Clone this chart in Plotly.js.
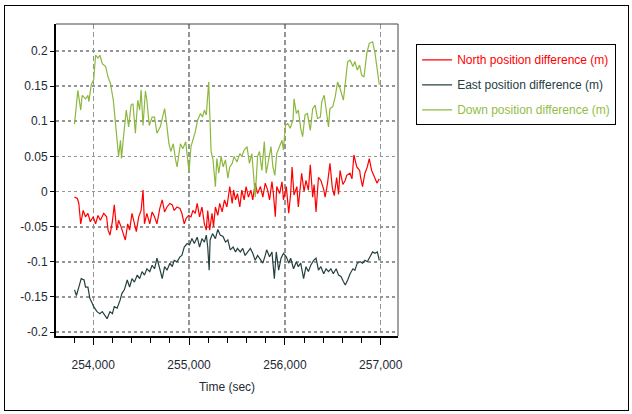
<!DOCTYPE html>
<html>
<head>
<meta charset="utf-8">
<script src="https://cdn.plot.ly/plotly-3.0.1.min.js"></script>
<style>
  body { margin: 0; background: #fff; }
  #plot { width: 632px; height: 414px; }
  #frame { position: absolute; left: 4px; top: 5px; width: 623px; height: 404px; border: 1px solid #000; pointer-events: none; }
</style>
</head>
<body>
<div id="plot"></div>
<div id="frame"></div>
<script>
// values (time in sec, differences in m)
var northTime = [253805,253835,253850,253870,253895,253920,253945,253970,254000,254025,
  254050,254075,254110,254140,254155,254175,254200,254220,254245,254265,
  254290,254310,254335,254360,254380,254405,254430,254450,254475,254500,
  254520,254535,254560,254590,254615,254640,254665,254695,254720,254745,
  254770,254800,254825,254845,254875,254905,254925,254950,254970,254995,
  255020,255040,255065,255085,255110,255135,255160,255180,255195,255215,
  255240,255255,255275,255300,255320,255345,255370,255395,255425,255450,
  255465,255485,255505,255530,255550,255575,255595,255620,255645,255665,
  255690,255715,255745,255770,255795,255820,255840,255865,255880,255900,
  255915,255945,255970,255985,256015,256040,256060,256075,256095,256125,
  256140,256175,256200,256220,256245,256265,256290,256305,256325,256350,
  256375,256405,256420,256445,256470,256495,256515,256540,256560,256575,
  256605,256630,256645,256680,256700,256720,256750,256780,256790,256810,
  256835,256860,256880,256905,256930,256960,256985];
var northVal = [-0.008,-0.010,-0.017,-0.046,-0.027,-0.036,-0.031,-0.043,-0.036,-0.046,
  -0.034,-0.041,-0.031,-0.036,-0.055,-0.062,-0.043,-0.019,-0.055,-0.041,
  -0.050,-0.060,-0.069,-0.046,-0.055,-0.031,-0.048,-0.057,-0.036,-0.027,
  0.002,-0.046,-0.031,-0.046,-0.029,-0.036,-0.046,-0.024,-0.012,-0.029,
  -0.022,-0.017,-0.019,-0.027,-0.022,-0.024,-0.031,-0.046,-0.038,-0.034,
  -0.036,-0.027,-0.031,-0.017,-0.036,-0.022,-0.046,-0.055,-0.027,-0.055,
  -0.031,-0.050,-0.022,-0.034,-0.017,-0.029,-0.012,-0.022,0.007,-0.017,
  0.002,-0.012,-0.003,-0.022,0.002,-0.012,0.007,-0.008,0.002,-0.012,
  0.012,-0.003,0.007,-0.008,0.012,0.002,-0.012,0.014,-0.003,-0.036,
  0.007,-0.003,0.014,-0.012,0.007,-0.031,-0.003,0.035,-0.005,0.007,
  -0.022,0.026,0.000,0.016,0.002,0.038,-0.008,0.010,-0.029,0.020,
  0.016,0.003,-0.008,0.012,0.040,0.005,-0.006,0.020,-0.004,0.030,
  0.010,0.016,0.023,0.026,0.018,0.052,0.035,0.030,0.020,0.007,
  0.026,0.035,0.047,0.030,0.022,0.012,0.018];

var eastTime = [253805,253825,253850,253875,253905,253920,253945,253965,253990,254005,
  254040,254070,254095,254120,254145,254175,254200,254220,254250,254280,
  254300,254325,254355,254380,254405,254430,254460,254485,254510,254535,
  254560,254590,254615,254640,254665,254695,254720,254745,254770,254800,
  254825,254845,254875,254905,254925,254950,254980,255005,255030,255055,
  255085,255110,255135,255160,255180,255195,255210,255220,255245,255275,
  255300,255325,255355,255380,255405,255430,255460,255485,255505,255535,
  255560,255585,255610,255640,255665,255690,255715,255745,255770,255795,
  255810,255840,255865,255890,255910,255935,255960,255985,256015,256040,
  256060,256090,256120,256140,256165,256195,256220,256245,256270,256300,
  256325,256350,256375,256405,256430,256455,256480,256505,256535,256560,
  256585,256610,256630,256655,256680,256710,256730,256755,256785,256810,
  256835,256860,256890,256915,256940,256965,256985];
var eastVal = [-0.140,-0.148,-0.136,-0.124,-0.126,-0.136,-0.136,-0.152,-0.159,-0.164,
  -0.171,-0.174,-0.171,-0.176,-0.181,-0.171,-0.174,-0.164,-0.166,-0.155,
  -0.145,-0.140,-0.126,-0.136,-0.124,-0.129,-0.119,-0.124,-0.114,-0.119,
  -0.110,-0.114,-0.105,-0.110,-0.095,-0.110,-0.124,-0.107,-0.112,-0.102,
  -0.107,-0.098,-0.100,-0.093,-0.091,-0.079,-0.074,-0.076,-0.067,-0.074,
  -0.065,-0.079,-0.067,-0.072,-0.062,-0.079,-0.112,-0.069,-0.060,-0.067,
  -0.054,-0.062,-0.064,-0.072,-0.069,-0.083,-0.079,-0.086,-0.081,-0.086,
  -0.081,-0.091,-0.086,-0.081,-0.088,-0.098,-0.091,-0.098,-0.102,-0.091,
  -0.083,-0.093,-0.086,-0.124,-0.086,-0.112,-0.095,-0.088,-0.093,-0.102,
  -0.095,-0.110,-0.100,-0.107,-0.102,-0.124,-0.107,-0.114,-0.105,-0.098,
  -0.095,-0.112,-0.107,-0.117,-0.110,-0.114,-0.110,-0.117,-0.110,-0.119,
  -0.121,-0.128,-0.133,-0.126,-0.117,-0.110,-0.112,-0.102,-0.100,-0.102,
  -0.098,-0.100,-0.091,-0.086,-0.088,-0.086,-0.098];

var downTime = [253805,253840,253870,253885,253920,253945,253955,253980,254005,254025,
  254050,254070,254095,254130,254155,254180,254210,254235,254250,254265,
  254285,254295,254320,254345,254370,254395,254415,254440,254465,254485,
  254500,254520,254545,254560,254585,254615,254640,254665,254700,254745,
  254770,254790,254810,254835,254860,254875,254910,254935,254965,254985,
  255000,255020,255040,255065,255090,255120,255140,255160,255180,255205,
  255215,255230,255250,255275,255290,255310,255335,255355,255380,255405,
  255425,255450,255470,255500,255530,255550,255575,255605,255630,255655,
  255675,255690,255715,255735,255760,255785,255805,255830,255855,255875,
  255895,255915,255945,255970,255985,256005,256030,256055,256085,256095,
  256120,256140,256165,256185,256210,256235,256265,256290,256315,256340,
  256370,256385,256410,256430,256455,256470,256500,256525,256550,256575,
  256610,256630,256655,256680,256710,256730,256755,256780,256800,256825,
  256855,256880,256915,256940,256965,256985];
var downVal = [0.096,0.144,0.116,0.137,0.132,0.137,0.128,0.152,0.159,0.194,
  0.190,0.194,0.182,0.178,0.163,0.154,0.130,0.092,0.064,0.050,
  0.073,0.047,0.083,0.116,0.092,0.123,0.125,0.083,0.130,0.116,
  0.145,0.094,0.143,0.130,0.094,0.106,0.106,0.083,0.092,0.118,
  0.092,0.068,0.057,0.068,0.045,0.035,0.068,0.061,0.071,0.045,
  0.028,0.064,0.073,0.085,0.102,0.111,0.106,0.116,0.109,0.156,
  0.116,0.057,0.045,0.007,0.047,0.026,0.050,0.035,0.045,0.019,
  0.035,0.040,0.050,0.042,0.054,0.050,0.059,0.064,0.040,0.054,
  0.021,-0.008,0.050,0.057,0.030,0.071,0.026,0.045,0.064,0.035,
  0.023,0.054,0.066,0.073,0.059,0.094,0.097,0.090,0.102,0.132,
  0.111,0.116,0.090,0.078,0.109,0.111,0.087,0.118,0.123,0.104,
  0.106,0.128,0.137,0.116,0.092,0.118,0.121,0.135,0.156,0.147,
  0.130,0.154,0.185,0.187,0.178,0.185,0.173,0.180,0.166,0.163,
  0.197,0.211,0.213,0.197,0.173,0.152];

var yTicks = [-0.2, -0.15, -0.1, -0.05, 0, 0.05, 0.1, 0.15, 0.2];
var yTickText = ['-0.2', '-0.15', '-0.1', '-0.05', '0', '0.05', '0.1', '0.15', '0.2'];

var names = ['North position difference (m)', 'East position difference (m)', 'Down position difference (m)'];
var colors = ['#ff0000', '#25403f', '#8db83f'];
var textColors = ['#ff0000', '#25403f', '#93bd45'];

function label(i) {
    return '<span style="color:' + textColors[i] + '">' + names[i] + '</span>';
}

var data = [
    {x: northTime, y: northVal, mode: 'lines', name: label(0), legendgroup: 'n', line: {color: colors[0], width: 1.2}},
    {x: eastTime, y: eastVal, mode: 'lines', name: label(1), legendgroup: 'e', line: {color: colors[1], width: 1.2}},
    {x: downTime, y: downVal, mode: 'lines', name: label(2), legendgroup: 'd', line: {color: colors[2], width: 1.2}}
];

var grid = '#959595';
var layout = {
    width: 632, height: 414,
    margin: {l: 56, r: 234, t: 24, b: 78, autoexpand: false},
    paper_bgcolor: '#fff', plot_bgcolor: '#fff',
    font: {family: 'Liberation Sans, Arial, sans-serif', size: 12, color: '#1e2a33'},
    showlegend: true,
    legend: {x: 1.053, y: 0.935, xanchor: 'left', yanchor: 'top',
             bordercolor: '#000', borderwidth: 1, bgcolor: '#fff',
             tracegroupgap: 6, font: {size: 12}},
    xaxis: {
        range: [253612, 257180], tick0: 254000, dtick: 1000, tickformat: ',d',
        ticks: 'outside', ticklen: 7, tickcolor: '#000', ticklabelstandoff: 10,
        minor: {dtick: 200, tick0: 254000, ticks: 'outside', ticklen: 5, tickcolor: '#000', showgrid: false},
        showgrid: true, gridcolor: grid, griddash: '5px,3px', gridwidth: 1.3,
        showline: true, linecolor: '#000', linewidth: 2, zeroline: false,
        title: {text: 'Time (sec)', standoff: 11, font: {size: 12}}
    },
    yaxis: {
        range: [-0.2057, 0.2385], tickvals: yTicks, ticktext: yTickText,
        ticks: 'outside', ticklen: 4, tickcolor: '#000',
        showgrid: true, gridcolor: grid, griddash: '3px,3px', gridwidth: 1.8,
        showline: true, linecolor: '#000', linewidth: 2, zeroline: false
    },
    shapes: [
        {type: 'line', xref: 'paper', yref: 'paper', x0: 0, x1: 1, y0: 1, y1: 1, line: {color: '#444', width: 1}},
        {type: 'line', xref: 'paper', yref: 'paper', x0: 1, x1: 1, y0: 0, y1: 1, line: {color: '#444', width: 1}}
    ]
};

Plotly.newPlot('plot', data, layout, {displayModeBar: false, staticPlot: true});
</script>
</body>
</html>
